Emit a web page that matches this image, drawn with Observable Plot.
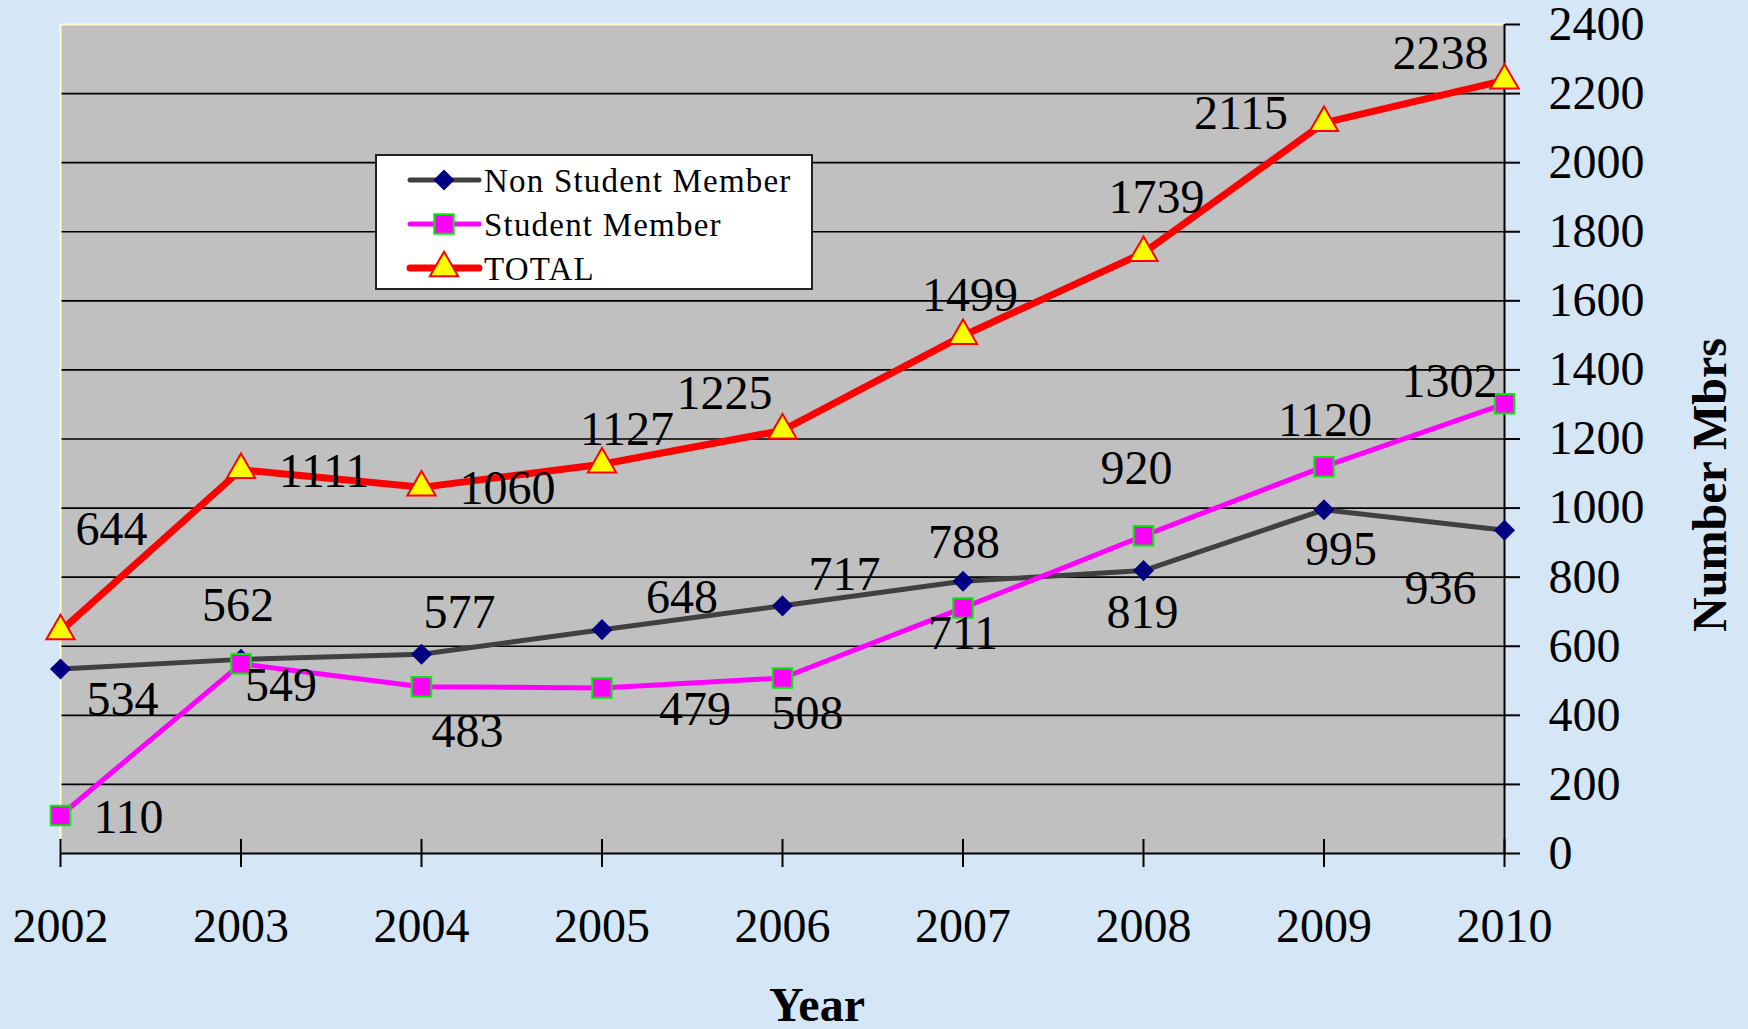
<!DOCTYPE html>
<html><head><meta charset="utf-8">
<script src="https://cdn.jsdelivr.net/npm/d3@7"></script>
<script src="https://cdn.jsdelivr.net/npm/@observablehq/plot@0.6"></script>
<style>
html,body{margin:0;padding:0;width:1748px;height:1029px;overflow:hidden;background:#d5e6f6;font-family:"Liberation Serif",serif;}
#wrap{position:relative;width:1748px;height:1029px;}
#wrap svg.plot{position:absolute;left:0;top:0;}
.title{position:absolute;font-family:"Liberation Serif",serif;font-weight:bold;font-size:48px;color:#000;white-space:nowrap;line-height:1;}
#xt{left:817px;top:1005px;transform:translate(-50%,-50%);}
#yt{left:1710px;top:485px;transform:translate(-50%,-50%) rotate(-90deg);}
#legend{position:absolute;left:375px;top:154px;width:434px;height:132px;background:#fff;border:2px solid #222;}
</style></head><body><div id="wrap"></div>
<script>
// ---- data ----
const years = [2002, 2003, 2004, 2005, 2006, 2007, 2008, 2009, 2010];
const nonStudent = [534, 562, 577, 648, 717, 788, 819, 995, 936];
const student = [110, 549, 483, 479, 508, 711, 920, 1120, 1302];
const total = [644, 1111, 1060, 1127, 1225, 1499, 1739, 2115, 2238];
const yTicks = [0, 200, 400, 600, 800, 1000, 1200, 1400, 1600, 1800, 2000, 2200, 2400];
const seriesNames = ["Non Student Member", "Student Member", "TOTAL"];
const xTitle = "Year";
const yTitle = "Number Mbrs";

// ---- label placement (pixel offsets, style only) ----
const offNon = [[62,31],[-3,-54],[38,-42],[80,-32],[62,-31],[1,-39],[-1,42],[17,40],[-64,58]];
const offStu = [[68,2],[40,22],[46,45],[93,22],[25,36],[0,26],[-7,-67],[1,-46],[-55,-22]];
const offTot = [[51,-101],[83,2],[86,1],[25,-35],[-58,-37],[7,-40],[13,-55],[-83,-9],[-64,-27]];

const styles = [
  {line:"#404040", lw:5, symbol:"diamond2", fill:"#000080", stroke:"none", sw:0, r:9.5},
  {line:"#ff00ff", lw:5, symbol:"square", fill:"#ff00ff", stroke:"#00ee00", sw:2, r:11},
  {line:"#ff0000", lw:7, symbol:"triangle", fill:"#ffff00", stroke:"#ff0000", sw:2, r:10.5}
];
const seriesVals = [nonStudent, student, total];
const offs = [offNon, offStu, offTot];

const rows = seriesVals.map((vals, s) => years.map((yr, i) => ({year: yr, value: vals[i], series: seriesNames[s]})));

const FS = 48;
const marks = [
  Plot.frame({fill:"#c0c0c0"}),
  Plot.gridY(yTicks.filter(d => d > 0 && d < 2400), {stroke:"black", strokeOpacity:1, strokeWidth:1.6}),
  Plot.ruleY([2400], {stroke:"#fffccc", strokeWidth:2}),
  Plot.ruleX([2002], {stroke:"#fffccc", strokeWidth:2}),
  Plot.ruleY([0], {stroke:"black", strokeWidth:2}),
  Plot.ruleX([2010], {stroke:"black", strokeWidth:2}),
  Plot.axisY(yTicks, {anchor:"right", label:null, tickSize:15, tickPadding:29, textAnchor:"start", fontSize:FS, strokeWidth:2, tickFormat: d => String(d)}),
  Plot.axisX(years, {anchor:"bottom", label:null, tickSize:28, dy:-14, tickPadding:40, fontSize:FS, strokeWidth:2, tickFormat: d => String(d)})
];
rows.forEach((data, s) => {
  const st = styles[s];
  marks.push(Plot.line(data, {x:"year", y:"value", stroke:st.line, strokeWidth:st.lw, strokeLinejoin:"round", strokeLinecap:"round"}));
});
rows.forEach((data, s) => {
  const st = styles[s];
  marks.push(Plot.dot(data, {x:"year", y:"value", symbol:st.symbol, r:st.r, fill:st.fill, stroke:st.stroke, strokeWidth:st.sw}));
});
rows.forEach((data, s) => {
  data.forEach((d, i) => {
    marks.push(Plot.text([d], {x:"year", y:"value", text: d => String(d.value), dx: offs[s][i][0], dy: offs[s][i][1], fontSize:FS, fill:"black"}));
  });
});

const plot = Plot.plot({
  width:1748, height:1029,
  marginLeft:60, marginRight:244, marginTop:24, marginBottom:176,
  style:{background:"transparent", fontFamily:"Liberation Serif, serif", color:"black", overflow:"visible"},
  x:{type:"linear", domain:[2002, 2010], label:null},
  y:{domain:[0, 2400], label:null},
  marks
});
plot.classList.add("plot");
const wrap = document.getElementById("wrap");
wrap.appendChild(plot);

// titles
const xt = document.createElement("div"); xt.className = "title"; xt.id = "xt"; xt.textContent = xTitle; wrap.appendChild(xt);
const yt = document.createElement("div"); yt.className = "title"; yt.id = "yt"; yt.textContent = yTitle; wrap.appendChild(yt);

// legend
const lg = document.createElement("div"); lg.id = "legend"; wrap.appendChild(lg);
const lsvg = d3.select(lg).append("svg").attr("width", 434).attr("height", 132);
const rowY = [24, 68, 112];
seriesNames.forEach((name, s) => {
  const st = styles[s];
  const g = lsvg.append("g").attr("transform", `translate(0,${rowY[s]})`);
  g.append("line").attr("x1", 33).attr("x2", 102).attr("stroke", st.line).attr("stroke-width", st.lw).attr("stroke-linecap", "round");
  const sym = {diamond2: d3.symbolDiamond2, square: d3.symbolSquare, triangle: d3.symbolTriangle}[st.symbol];
  g.append("path").attr("transform", "translate(67,0)").attr("d", d3.symbol(sym, st.r * st.r * Math.PI)())
    .attr("fill", st.fill).attr("stroke", st.stroke === "none" ? null : st.stroke).attr("stroke-width", st.sw);
  g.append("text").attr("x", 107).attr("dy", "0.35em").attr("font-family", "Liberation Serif, serif").attr("font-size", 33).attr("letter-spacing", 1.2).attr("fill", "black").text(name);
});
</script>
</body></html>
